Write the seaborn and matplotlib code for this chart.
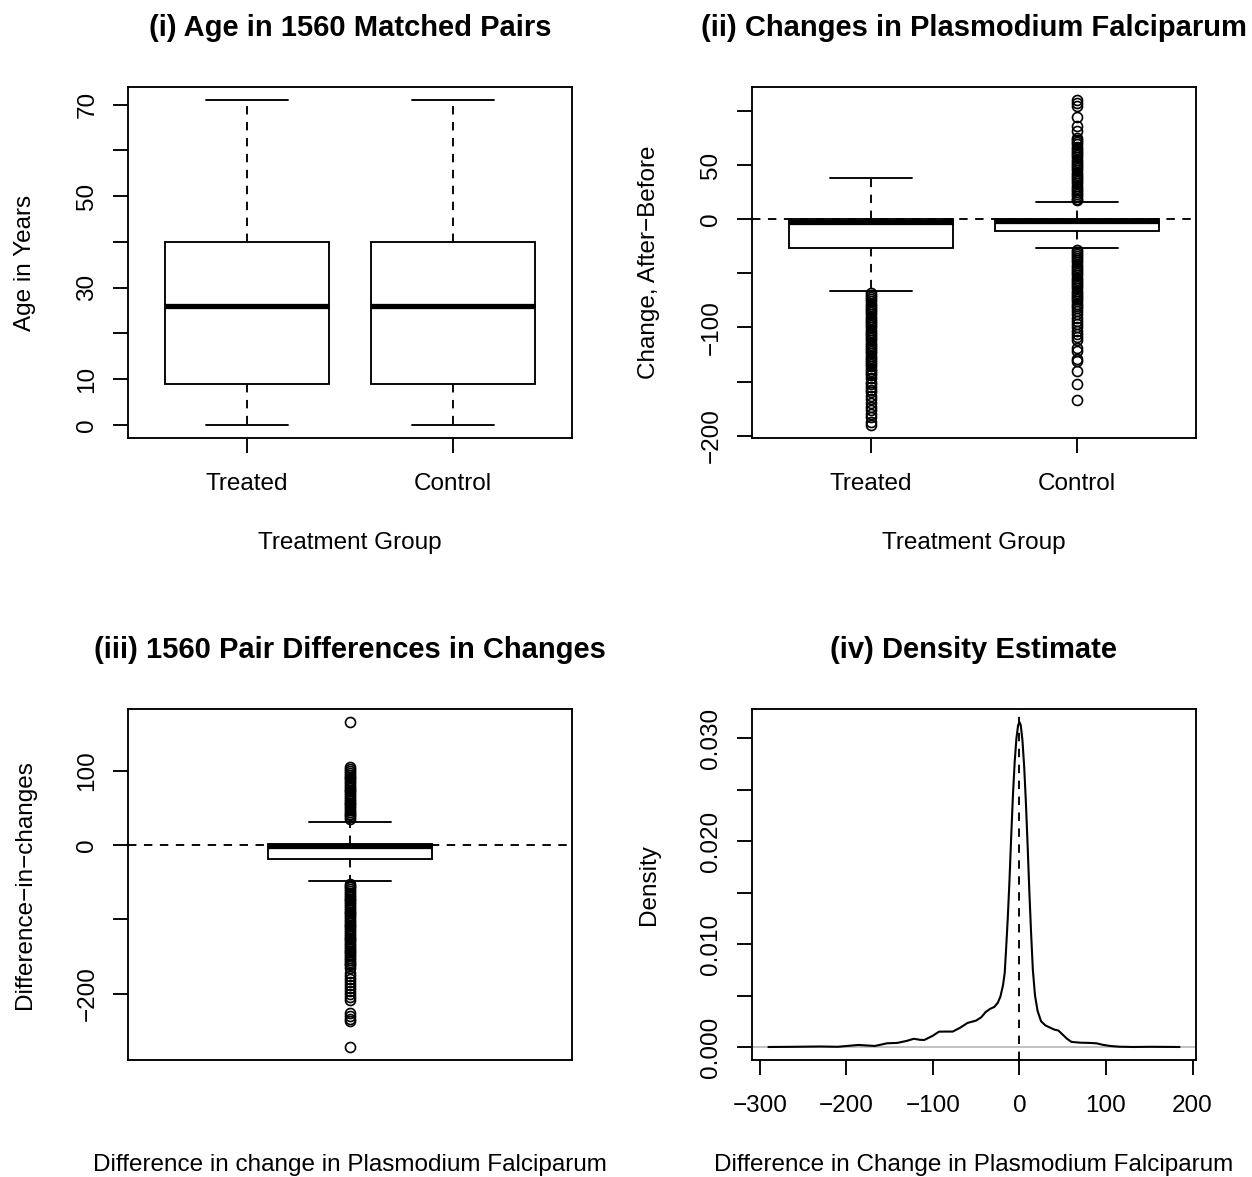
import numpy as np
import pandas as pd
import matplotlib
matplotlib.use("Agg")
import matplotlib.pyplot as plt
import seaborn as sns

# ---- values ----
groups = ["Treated", "Control"]

# five numbers: lower whisker, Q1, median, Q3, upper whisker
age_five = [0, 9, 26, 40, 71]

treated_five = [-66, -27, -3, 0, 38]
treated_low_out = [-68, -70, -72, -74, -76, -78, -80, -82, -84, -86, -88, -90,
                   -92, -94, -96, -98, -100, -102, -104, -106, -108, -110, -112,
                   -114, -116, -118, -120, -122, -124, -126, -128, -130, -132,
                   -134, -136, -138, -140, -142, -144, -147, -150, -152, -155,
                   -158, -160, -163, -166, -170, -173, -176, -180, -183, -187, -190]
treated_high_out = []

control_five = [-26.5, -11, -1.5, 0, 15.5]
control_low_out = [-28.5, -30, -32, -34, -36, -38, -40, -42, -44, -46, -48, -50,
                   -52, -54, -56, -58, -60, -62, -64, -66, -68, -70, -72, -74,
                   -76, -78, -80, -82, -85, -88, -91, -94, -97, -100, -103, -106,
                   -109, -112, -119, -122, -129, -131, -140, -152, -167]
control_high_out = [17.5, 19, 21, 23, 25, 27, 29, 31, 33, 35, 37, 39, 41, 43, 45,
                    47, 49, 51, 53, 55, 57, 59, 61, 63, 65, 67, 69, 71, 73, 75,
                    81, 86, 94, 104, 107, 110]

diff_five = [-48, -19.3, -1.5, 2, 31.5]
diff_low_out = [-52, -54.5, -57, -59.5, -62, -64.5, -67, -69.5, -72, -74.5, -77,
                -79.5, -82, -84.5, -87, -89.5, -92, -94.5, -97, -99.5, -102,
                -104.5, -107, -109.5, -112, -114.5, -117, -119.5, -122, -124.5,
                -127, -129.5, -132, -134.5, -137, -139.5, -142, -144.5, -147,
                -149.5, -152, -154.5, -157, -159.5, -162, -165, -172, -176, -180,
                -184, -188, -192, -196, -200, -204, -208, -226, -230, -234, -237,
                -272]
diff_high_out = [35, 37.5, 40, 42.5, 45, 47.5, 50, 52.5, 55, 57.5, 60, 62.5, 65,
                 67.5, 70, 72.5, 75, 77.5, 80, 82.5, 85, 87.5, 90, 92.5, 95, 97.5,
                 100, 103, 106, 166]

dens_x = [-290, -260, -230, -210, -186, -167, -153, -141, -130, -122, -115, -110,
          -100, -93, -85, -77, -68, -60, -50, -44, -39, -34, -29, -25, -22, -19,
          -17, -15.5, -13.5, -11.5, -9.5, -7.5, -5.5, -3.5, -1.5, 0, 1.5, 3.5,
          5.5, 7.5, 9.5, 11.5, 13.5, 15.5, 18, 21, 25, 30, 35, 40, 45, 50, 55,
          60, 70, 80, 89, 97, 105, 115, 132, 150, 170, 185]
dens_y = [0, 0.00002, 0.00005, 0.00002, 0.0002, 0.0001, 0.00036, 0.0004, 0.0006,
          0.0008, 0.0007, 0.00068, 0.0011, 0.00149, 0.0015, 0.0015, 0.0019,
          0.00234, 0.00257, 0.0029, 0.0034, 0.0037, 0.0039, 0.0043, 0.0049,
          0.006, 0.0072, 0.0094, 0.0125, 0.0162, 0.0205, 0.0245, 0.0277, 0.0300,
          0.0313, 0.0316, 0.0313, 0.0298, 0.0272, 0.0237, 0.0195, 0.0150, 0.0110,
          0.0075, 0.0050, 0.0035, 0.0025, 0.0021, 0.0019, 0.0017, 0.0016, 0.0012,
          0.0008, 0.0005, 0.00042, 0.0004, 0.00036, 0.0002, 0.0001, 0.00003, 0,
          0.00002, 0.00001, 0]

age_ticks = [0, 10, 20, 30, 40, 50, 60, 70]
age_ticklabels = ["0", "10", "", "30", "", "50", "", "70"]
chg_ticks = [-200, -150, -100, -50, 0, 50, 100]
chg_ticklabels = ["\u2212200", "", "\u2212100", "", "0", "50", ""]
diff_ticks = [-200, -100, 0, 100]
diff_ticklabels = ["\u2212200", "", "0", "100"]
dens_xticks = [-300, -200, -100, 0, 100, 200]
dens_xticklabels = ["\u2212300", "\u2212200", "\u2212100", "0", "100", "200"]
dens_yticks = [0, 0.005, 0.010, 0.015, 0.020, 0.025, 0.030]
dens_yticklabels = ["0.000", "", "0.010", "", "0.020", "", "0.030"]


def sample(five, low=(), high=(), k=400):
    # raw values whose quartiles / whiskers reproduce the read five numbers
    return np.concatenate([np.array(low, float), np.repeat(five, k),
                           np.array(high, float)])


def rlim(vals):
    lo, hi = np.min(vals), np.max(vals)
    pad = 0.04 * (hi - lo)
    return lo - pad, hi + pad


age_df = pd.DataFrame({
    "group": np.repeat(groups, 5 * 400),
    "age": np.concatenate([sample(age_five), sample(age_five)]),
})
tr = sample(treated_five, treated_low_out, treated_high_out)
co = sample(control_five, control_low_out, control_high_out)
chg_df = pd.DataFrame({
    "group": ["Treated"] * len(tr) + ["Control"] * len(co),
    "change": np.concatenate([tr, co]),
})
diff = sample(diff_five, diff_low_out, diff_high_out)

# ---- style ----
sns.set_style("ticks")
plt.rcParams["font.family"] = ["Liberation Sans", "DejaVu Sans"]
plt.rcParams["text.color"] = "black"
plt.rcParams["axes.labelcolor"] = "black"
LW = 1.35
FS = 17.5
TFS = 21
DASH = (0, (4.5, 4))

box_kw = dict(color="white", linecolor="black", linewidth=LW, whis=1.5,
              medianprops=dict(linewidth=3.8, solid_capstyle="butt"),
              whiskerprops=dict(linestyle=DASH),
              flierprops=dict(marker="o", markerfacecolor="none",
                              markeredgecolor="black", markeredgewidth=1.2,
                              markersize=7.2))

fig = plt.figure(figsize=(12.52, 11.77), dpi=100)
W, H = 1252, 1177
aw, ah = 444 / W, 351 / H
ax1 = fig.add_axes([128 / W, 1 - 438 / H, aw, ah])
ax2 = fig.add_axes([752 / W, 1 - 438 / H, aw, ah])
ax3 = fig.add_axes([128 / W, 1 - 1060 / H, aw, ah])
ax4 = fig.add_axes([752 / W, 1 - 1060 / H, aw, ah])


def finish(ax, title, xlabel, ylabel):
    for s in ax.spines.values():
        s.set_visible(True)
        s.set_linewidth(LW)
        s.set_color("black")
    ax.tick_params(direction="out", length=10.8, width=LW, labelsize=FS,
                   colors="black")
    ax.tick_params(axis="x", pad=14.5)
    ax.tick_params(axis="y", pad=10.5, labelrotation=90)
    for t in ax.get_yticklabels():
        t.set_va("center")
    ax.set_xlabel(xlabel, fontsize=FS, va="center", color="black")
    ax.set_ylabel(ylabel, fontsize=FS, va="center", color="black")
    ax.xaxis.set_label_coords(0.5, -0.299)
    ax.yaxis.set_label_coords(-0.232, 0.5)
    ax.text(0.5, 1.168, title, transform=ax.transAxes, ha="center",
            va="center", fontsize=TFS, fontweight="bold", color="black")


# (i)
sns.boxplot(data=age_df, x="group", y="age", order=groups, width=0.8, ax=ax1,
            **box_kw)
ax1.set_xlim(-0.58, 1.58)
ax1.set_ylim(*rlim(age_five))
ax1.set_yticks(age_ticks, age_ticklabels)
finish(ax1, "(i) Age in 1560 Matched Pairs", "Treatment Group", "Age in Years")

# (ii)
sns.boxplot(data=chg_df, x="group", y="change", order=groups, width=0.8,
            ax=ax2, **box_kw)
ax2.axhline(0, color="black", lw=LW, ls=DASH, zorder=5)
ax2.set_xlim(-0.58, 1.58)
ax2.set_ylim(*rlim(chg_df["change"]))
ax2.set_yticks(chg_ticks, chg_ticklabels)
finish(ax2, "(ii) Changes in Plasmodium Falciparum", "Treatment Group",
       "Change, After\u2212Before")

# (iii)
sns.boxplot(y=diff, width=0.4, ax=ax3, **box_kw)
ax3.axhline(0, color="black", lw=LW, ls=DASH, zorder=5)
ax3.set_xlim(-0.54, 0.54)
ax3.set_ylim(*rlim(diff))
ax3.set_yticks(diff_ticks, diff_ticklabels)
ax3.set_xticks([])
finish(ax3, "(iii) 1560 Pair Differences in Changes",
       "Difference in change in Plasmodium Falciparum",
       "Difference\u2212in\u2212changes")

# (iv)
ax4.axhline(0, color="#BEBEBE", lw=LW, zorder=1)
sns.lineplot(x=dens_x, y=dens_y, color="black", lw=1.5, ax=ax4, zorder=2)
ax4.axvline(0, color="black", lw=LW, ls=DASH, zorder=3)
ax4.set_xlim(*rlim(dens_x))
ax4.set_ylim(*rlim([0] + dens_y))
ax4.set_xticks(dens_xticks, dens_xticklabels)
ax4.set_yticks(dens_yticks, dens_yticklabels)
finish(ax4, "(iv) Density Estimate",
       "Difference in Change in Plasmodium Falciparum", "Density")

fig.savefig("out.png", dpi=100, facecolor="white")
